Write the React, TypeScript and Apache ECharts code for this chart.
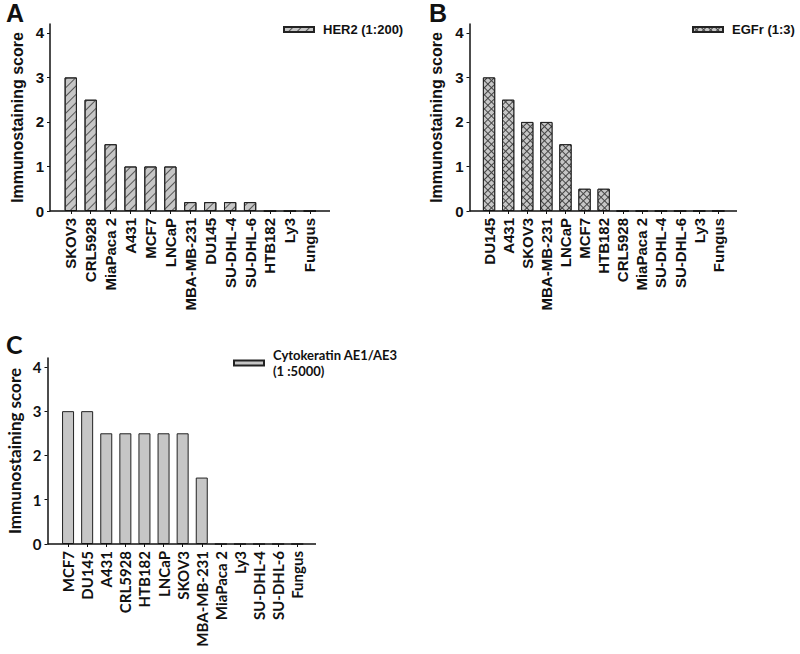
import React, { useEffect, useRef } from "react";
import * as echarts from "echarts";

const catsA = ["SKOV3", "CRL5928", "MiaPaca 2", "A431", "MCF7", "LNCaP", "MBA-MB-231", "DU145", "SU-DHL-4", "SU-DHL-6", "HTB182", "Ly3", "Fungus"];
const valsA = [3, 2.5, 1.5, 1, 1, 1, 0.2, 0.2, 0.2, 0.2, 0, 0, 0];
const catsB = ["DU145", "A431", "SKOV3", "MBA-MB-231", "LNCaP", "MCF7", "HTB182", "CRL5928", "MiaPaca 2", "SU-DHL-4", "SU-DHL-6", "Ly3", "Fungus"];
const valsB = [3, 2.5, 2, 2, 1.5, 0.5, 0.5, 0, 0, 0, 0, 0, 0];
const catsC = ["MCF7", "DU145", "A431", "CRL5928", "HTB182", "LNCaP", "SKOV3", "MBA-MB-231", "MiaPaca 2", "Ly3", "SU-DHL-4", "SU-DHL-6", "Fungus"];
const valsC = [3, 3, 2.5, 2.5, 2.5, 2.5, 2.5, 1.5, 0, 0, 0, 0, 0];
const yTicks = [0, 1, 2, 3, 4];
const nameA = "HER2 (1:200)";
const nameB = "EGFr (1:3)";
const nameC = "Cytokeratin AE1/AE3\n(1 :5000)";
const yTitle = "Immunostaining score";

const ARIAL = "'Liberation Sans', Arial, sans-serif";
const CAL = "Lato, 'Open Sans', sans-serif";

export default function App() {
  const ref = useRef<HTMLDivElement>(null);
  useEffect(() => {
    document.body.style.margin = "0";
    const chart = echarts.init(ref.current!, null, { renderer: "svg" });
    const grids = [
      { left: 60.8, top: 24, width: 259, height: 187, outerBoundsMode: "none", containLabel: false },
      { left: 479.5, top: 24, width: 248.3, height: 187, outerBoundsMode: "none", containLabel: false },
      { left: 58.5, top: 358, width: 248.3, height: 186, outerBoundsMode: "none", containLabel: false },
    ];
    const offsets = [10.8, 10, 11];
    const fonts = [ARIAL, ARIAL, CAL];
    const labelSizes = [15, 15, 15];
    const cats = [catsA, catsB, catsC];
    const xAxis = cats.map((c, i) => ({
      type: "category",
      gridIndex: i,
      data: c,
      boundaryGap: true,
      axisLine: { show: false },
      axisTick: { show: true, alignWithLabel: true, length: 3, lineStyle: { color: "#111", width: 1 } },
      axisLabel: {
        interval: 0,
        rotate: 90,
        margin: 7,
        color: "#111",
        fontWeight: "bold",
        fontSize: labelSizes[i],
        fontFamily: fonts[i],
      },
    }));
    const yAxis = [0, 1, 2].map((i) => ({
      type: "value",
      gridIndex: i,
      min: 0,
      max: 4.2,
      offset: offsets[i],
      name: yTitle,
      nameLocation: "middle",
      nameGap: 25,
      nameTextStyle: { color: "#111", fontWeight: "bold", fontSize: i === 2 ? 17 : 16, fontFamily: fonts[i] },
      splitLine: { show: false },
      axisLine: { show: true, lineStyle: { color: "#111", width: 1.5 } },
      axisTick: { show: true, length: 3, customValues: yTicks, lineStyle: { color: "#111", width: 1 } },
      axisLabel: {
        customValues: yTicks,
        margin: 6,
        color: "#111",
        fontWeight: "bold",
        fontSize: 15,
        fontFamily: fonts[i],
        formatter: (v: number) => (Number.isInteger(v) ? String(v) : ""),
      },
    }));
    const baseItem = { color: "#c6c6c6", borderColor: "#222", borderWidth: 1 };
    const series = [
      {
        type: "bar",
        name: nameA,
        xAxisIndex: 0,
        yAxisIndex: 0,
        data: valsA,
        barWidth: 12.3,
        itemStyle: {
          ...baseItem,
          decal: { symbol: "rect", symbolSize: 1, dashArrayX: [1, 0], dashArrayY: [0.8, 4.5], rotation: -Math.PI / 4, color: "#555" },
        },
      },
      {
        type: "bar",
        name: nameB,
        xAxisIndex: 1,
        yAxisIndex: 1,
        data: valsB,
        barWidth: 12.3,
        itemStyle: {
          color: "#444",
          borderColor: "#222",
          borderWidth: 1,
          decal: { symbol: "rect", symbolSize: 1, dashArrayX: [3.4, 0.9], dashArrayY: [3.4, 0.9], rotation: Math.PI / 4, color: "#c6c6c6" },
        },
      },
      {
        type: "bar",
        name: nameC,
        xAxisIndex: 2,
        yAxisIndex: 2,
        data: valsC,
        barWidth: 12,
        itemStyle: { ...baseItem },
      },
    ];
    const legendBase = { orient: "vertical", itemWidth: 30, itemHeight: 5, icon: "rect", padding: 0, selectedMode: false };
    const legend = [
      { ...legendBase, left: 283, top: 23, data: [nameA], textStyle: { fontWeight: "bold", fontSize: 13, fontFamily: ARIAL, color: "#111", padding: [0, 0, 0, 4] } },
      { ...legendBase, left: 692, top: 23, data: [nameB], textStyle: { fontWeight: "bold", fontSize: 13, fontFamily: ARIAL, color: "#111", padding: [0, 0, 0, 4] } },
      { ...legendBase, left: 233, top: 339, data: [nameC], textStyle: { fontWeight: "bold", fontSize: 13, fontFamily: CAL, color: "#111", lineHeight: 16, padding: [16, 0, 0, 4] } },
    ];
    const axisLines = [
      [50, 211, 330],
      [469.5, 211, 737],
      [47.5, 544, 316],
    ];
    const graphic: any[] = axisLines.map(([x1, y, x2]) => ({
      type: "line",
      shape: { x1, y1: y, x2, y2: y },
      style: { stroke: "#111", lineWidth: 1.5 },
      z: 10,
    }));
    graphic.push(
      { type: "text", left: 6, top: 0, style: { text: "A", font: `bold 25px ${ARIAL}`, fill: "#111" } },
      { type: "text", left: 429, top: 0, style: { text: "B", font: `bold 25px ${ARIAL}`, fill: "#111" } },
      { type: "text", left: 6, top: 331, style: { text: "C", font: `bold 25px ${CAL}`, fill: "#111" } }
    );
    chart.setOption({
      animation: false,
      backgroundColor: "#fff",
      grid: grids,
      xAxis,
      yAxis,
      series,
      legend,
      graphic,
    } as any);
    return () => chart.dispose();
  }, []);
  return <div ref={ref} style={{ position: "fixed", left: 0, top: 0, width: 800, height: 654 }} />;
}
